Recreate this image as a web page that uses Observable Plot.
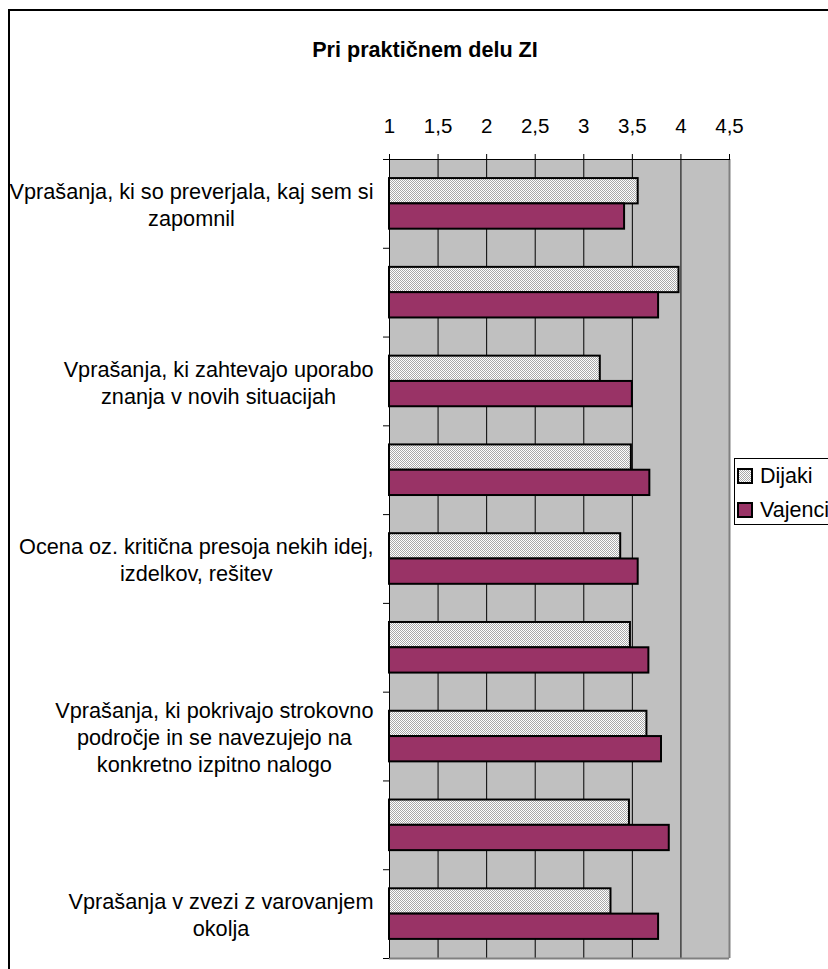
<!DOCTYPE html>
<html>
<head>
<meta charset="utf-8">
<script src="https://cdn.jsdelivr.net/npm/d3@7"></script>
<script src="https://cdn.jsdelivr.net/npm/@observablehq/plot@0.6"></script>
<style>
  html, body { margin: 0; padding: 0; background: #fff; overflow: hidden; }
  #wrap { position: relative; width: 828px; height: 969px; overflow: hidden; font-family: "Liberation Sans", Arial, sans-serif; color: #000; }
  #border { position: absolute; left: 8px; top: 9px; width: 900px; height: 1000px; border: 2px solid #000; box-sizing: border-box; }
  #chart { position: absolute; left: 0; top: 0; }
  #title { position: absolute; left: 225px; width: 400px; top: 39px; text-align: center; font-weight: bold; font-size: 21.6px; line-height: 1; }
  #legend { position: absolute; left: 734px; top: 458px; width: 120px; height: 67px; border: 1px solid #000; background: #fff; box-sizing: border-box; }
  .key { position: absolute; left: 2px; width: 16px; height: 16px; border: 2px solid #000; box-sizing: border-box; }
  .ltxt { position: absolute; left: 25px; font-size: 21.5px; line-height: 1; white-space: nowrap; }
</style>
</head>
<body>
<div id="wrap">
  <div id="border"></div>
  <div id="chart"></div>
  <div id="title">Pri praktičnem delu ZI</div>
  <div id="legend"></div>
</div>
<script>
// ---- data ----
const categories = [
  "Vprašanja, ki so preverjala, kaj sem si\nzapomnil",
  "",
  "Vprašanja, ki zahtevajo uporabo\nznanja v novih situacijah",
  "",
  "Ocena oz. kritična presoja nekih idej,\nizdelkov, rešitev",
  "",
  "Vprašanja, ki pokrivajo strokovno\npodročje in se navezujejo na\nkonkretno izpitno nalogo",
  "",
  "Vprašanja v zvezi z varovanjem\nokolja"
];
const seriesNames = ["Dijaki", "Vajenci"];
const dijaki  = [3.56, 3.98, 3.17, 3.49, 3.38, 3.48, 3.65, 3.47, 3.28];
const vajenci = [3.42, 3.77, 3.50, 3.68, 3.56, 3.67, 3.80, 3.88, 3.77];
const xTicks = [1, 1.5, 2, 2.5, 3, 3.5, 4, 4.5];

// ---- styling constants ----
const FONT = "Liberation Sans, Arial, sans-serif";
const MAROON = "#993366";
const PLOT_GRAY = "#c0c0c0";
const BAR = 0.285; // fraction of a category step taken by each bar
const LABEL_SIZE = 21.7;

const rows = categories.flatMap((c, i) => [
  {i, series: seriesNames[0], value: dijaki[i], y1: i - BAR, y2: i},
  {i, series: seriesNames[1], value: vajenci[i], y1: i, y2: i + BAR}
]);

const xMin = xTicks[0], xMax = xTicks[xTicks.length - 1];
const boundaries = d3.range(categories.length + 1).map(k => k - 0.5);

// measure label widths to center lines within a right-aligned block
const ctx = document.createElement("canvas").getContext("2d");
ctx.font = LABEL_SIZE + "px 'Liberation Sans'";
const labelMarks = categories.map((c, i) => {
  if (!c) return null;
  const w = d3.max(c.split("\n"), s => ctx.measureText(s).width);
  return Plot.text([{i, text: c}], {
    frameAnchor: "left", y: "i", text: "text",
    textAnchor: "middle", lineAnchor: "middle",
    lineHeight: 1.24, fontSize: LABEL_SIZE, fill: "#000",
    dx: -(16 + w / 2)
  });
}).filter(Boolean);

const chart = Plot.plot({
  width: 828,
  height: 969,
  marginTop: 159,
  marginLeft: 389,
  marginRight: 99,
  marginBottom: 11,
  style: {fontFamily: FONT, background: "transparent", color: "#000"},
  x: {domain: [xMin, xMax], axis: null},
  y: {domain: [boundaries[0], boundaries[boundaries.length - 1]], reverse: true, axis: null},
  marks: [
    Plot.frame({fill: PLOT_GRAY, stroke: null}),
    Plot.ruleX(xTicks.slice(1, -1), {stroke: "#000", strokeWidth: 1}),
    Plot.rect(rows.filter(d => d.series === seriesNames[0]), {
      x1: () => xMin, x2: "value", y1: "y1", y2: "y2",
      fill: "url(#dither)", stroke: "#000", strokeWidth: 2
    }),
    Plot.rect(rows.filter(d => d.series === seriesNames[1]), {
      x1: () => xMin, x2: "value", y1: "y1", y2: "y2",
      fill: MAROON, stroke: "#000", strokeWidth: 2
    }),
    Plot.ruleX([xMax], {stroke: "#808080", strokeWidth: 2}),
    Plot.ruleY([boundaries[boundaries.length - 1]], {stroke: "#808080", strokeWidth: 2}),
    Plot.ruleY([boundaries[0]], {stroke: "#000", strokeWidth: 1}),
    Plot.ruleX([xMin], {stroke: "#000", strokeWidth: 1}),
    Plot.axisX(xTicks, {
      anchor: "top", tickSize: 6, tickPadding: 21, fontSize: 20.5, label: null,
      tickFormat: d => String(d).replace(".", ","), stroke: "#000"
    }),
    Plot.axisY(boundaries, {
      anchor: "left", tickSize: 6, tickFormat: () => "", label: null, stroke: "#000"
    }),
    ...labelMarks
  ]
});

// dither pattern for the "Dijaki" bars
const ns = "http://www.w3.org/2000/svg";
const defs = document.createElementNS(ns, "defs");
defs.innerHTML = '<pattern id="dither" width="2" height="2" patternUnits="userSpaceOnUse">' +
  '<rect width="2" height="2" fill="#ffffff"/>' +
  '<rect x="0" y="0" width="1" height="1" fill="#a8a8a8"/>' +
  '<rect x="1" y="1" width="1" height="1" fill="#a8a8a8"/></pattern>';
chart.insertBefore(defs, chart.firstChild);
document.getElementById("chart").appendChild(chart);

// legend
const legend = document.getElementById("legend");
const keyFills = [
  "repeating-conic-gradient(#a8a8a8 0 25%, #ffffff 0 50%) 0 0 / 2px 2px",
  MAROON
];
seriesNames.forEach((name, k) => {
  const sw = document.createElement("div");
  sw.className = "key";
  sw.style.top = (9 + 34 * k) + "px";
  sw.style.background = keyFills[k];
  legend.appendChild(sw);
  const t = document.createElement("div");
  t.className = "ltxt";
  t.style.top = (7 + 34 * k) + "px";
  t.textContent = name;
  legend.appendChild(t);
});
</script>
</body>
</html>
